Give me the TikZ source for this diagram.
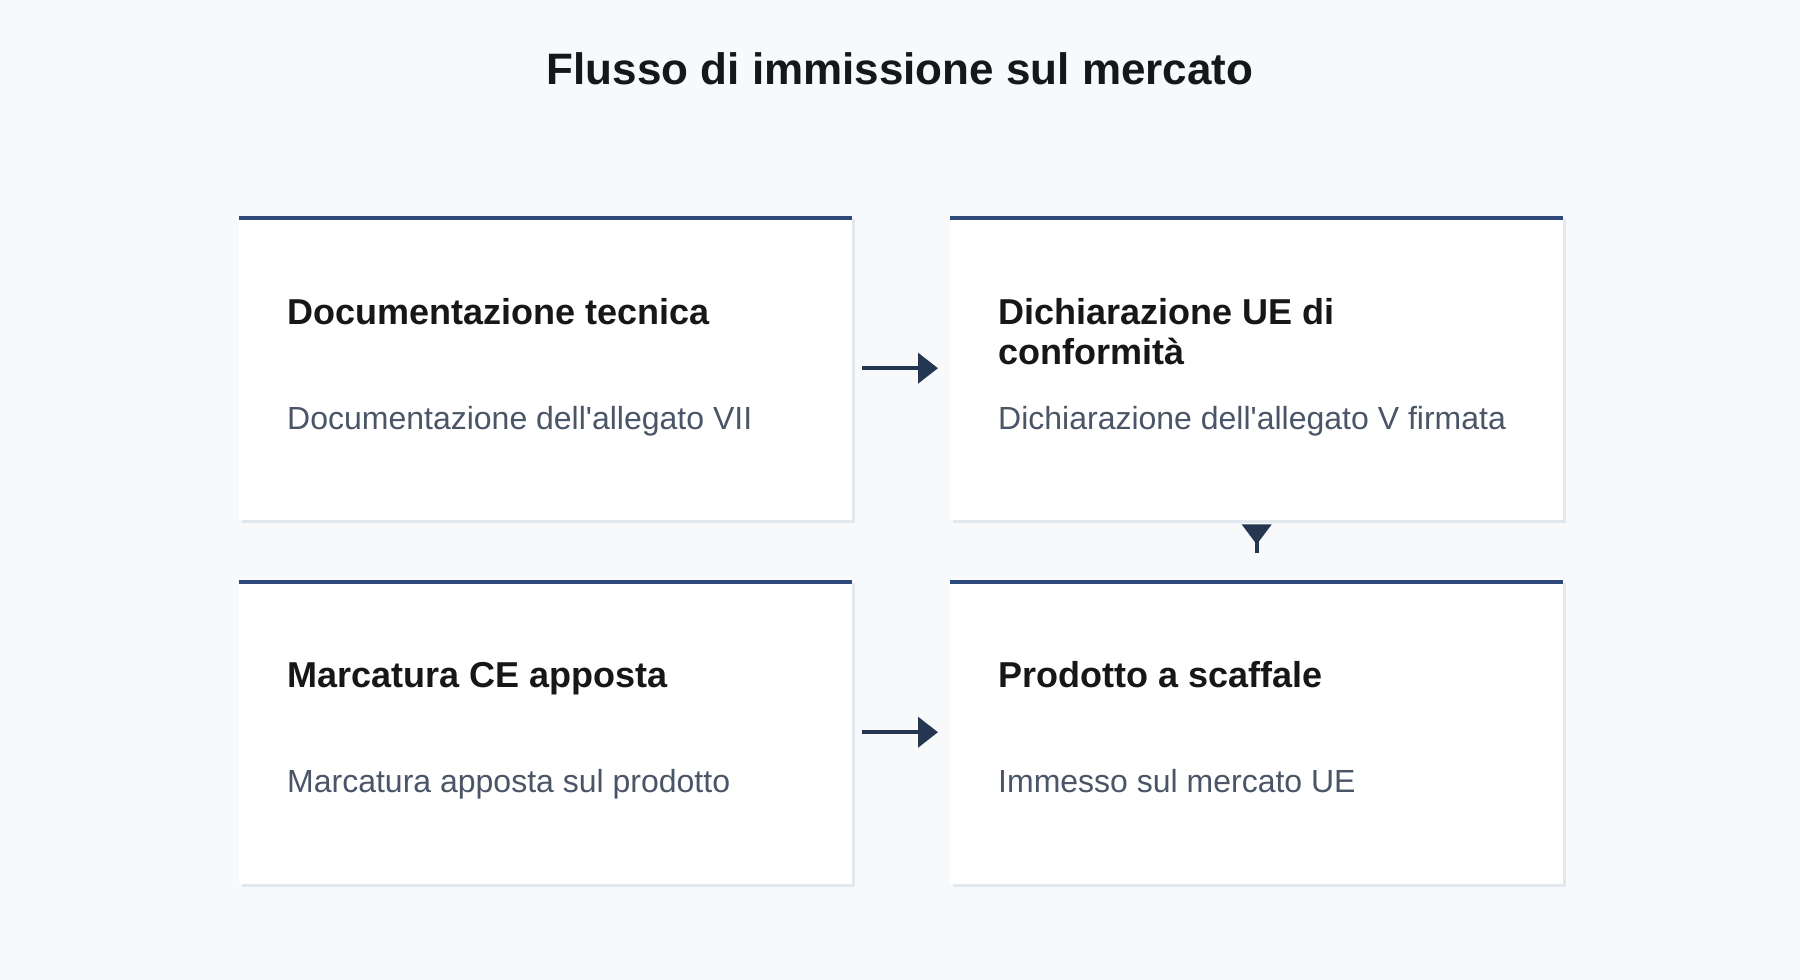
\documentclass[tikz,border=0pt]{standalone}
\usepackage{fontspec}
\setmainfont{Liberation Sans}
\usetikzlibrary{arrows.meta}
\definecolor{bgc}{HTML}{F8F9FB}
\definecolor{shadowc}{HTML}{E2E8F0}
\definecolor{accent}{HTML}{2D4A7A}
\definecolor{navy}{HTML}{253650}
\definecolor{titlec}{HTML}{161719}
\definecolor{subc}{HTML}{4A5568}
\tikzset{
  card/.style={rectangle, fill=white, minimum width=613pt, minimum height=304pt, anchor=north west, inner sep=0pt,
    preaction={fill=shadowc, transform canvas={shift={(2.5pt,-2.5pt)}}}},
  accentline/.style={draw=accent, line width=4pt},
  cardtitle/.style={anchor=base west, inner sep=0pt, text=titlec, align=left,
    font=\fontsize{36}{40}\selectfont\bfseries},
  cardsub/.style={anchor=base west, inner sep=0pt, text=subc, font=\fontsize{32}{36}\selectfont},
  conn/.style={draw=navy, line width=4pt, -{Triangle[length=20pt,width=30pt]}},
}
\begin{document}
\begin{tikzpicture}[x=1pt,y=-1pt]
\fill[bgc] (0,0) rectangle (1800,980);
\useasboundingbox (0,0) rectangle (1800,980);
\node[anchor=base, inner sep=0pt, text=titlec, font=\fontsize{44}{50}\selectfont\bfseries] (title) at (900,84) {Flusso di immissione sul mercato};

\node[card] (b1) at (239,216) {};
\node[card] (b2) at (950,216) {};
\node[card] (b3) at (239,580) {};
\node[card] (b4) at (950,580) {};

\foreach \b in {b1,b2,b3,b4}{
  \draw[accentline] ([yshift=-2pt]\b.north west) -- ([yshift=-2pt]\b.north east);
}

\node[cardtitle] (t1) at (287,324) {Documentazione tecnica};
\node[cardsub] (s1) at (287,429) {Documentazione dell\textquotesingle allegato VII};
\node[cardtitle] (t2) at (998,364) {Dichiarazione UE di\\conformità};
\node[cardsub] (s2) at (998,429) {Dichiarazione dell\textquotesingle allegato V firmata};
\node[cardtitle] (t3) at (287,687) {Marcatura CE apposta};
\node[cardsub] (s3) at (287,792) {Marcatura apposta sul prodotto};
\node[cardtitle] (t4) at (998,687) {Prodotto a scaffale};
\node[cardsub] (s4) at (998,792) {Immesso sul mercato UE};

\draw[conn] ([xshift=10pt]b1.east) -- ([xshift=-12pt]b2.west);
\draw[conn] ([xshift=10pt]b3.east) -- ([xshift=-12pt]b4.west);
\draw[draw=navy, line width=4pt] ([yshift=-20pt]b2.south) -- ([yshift=27pt]b4.north);
\fill[navy] ([xshift=-15pt,yshift=-4pt]b2.south) -- ([xshift=15pt,yshift=-4pt]b2.south) -- ([yshift=-24pt]b2.south) -- cycle;
\end{tikzpicture}
\end{document}
